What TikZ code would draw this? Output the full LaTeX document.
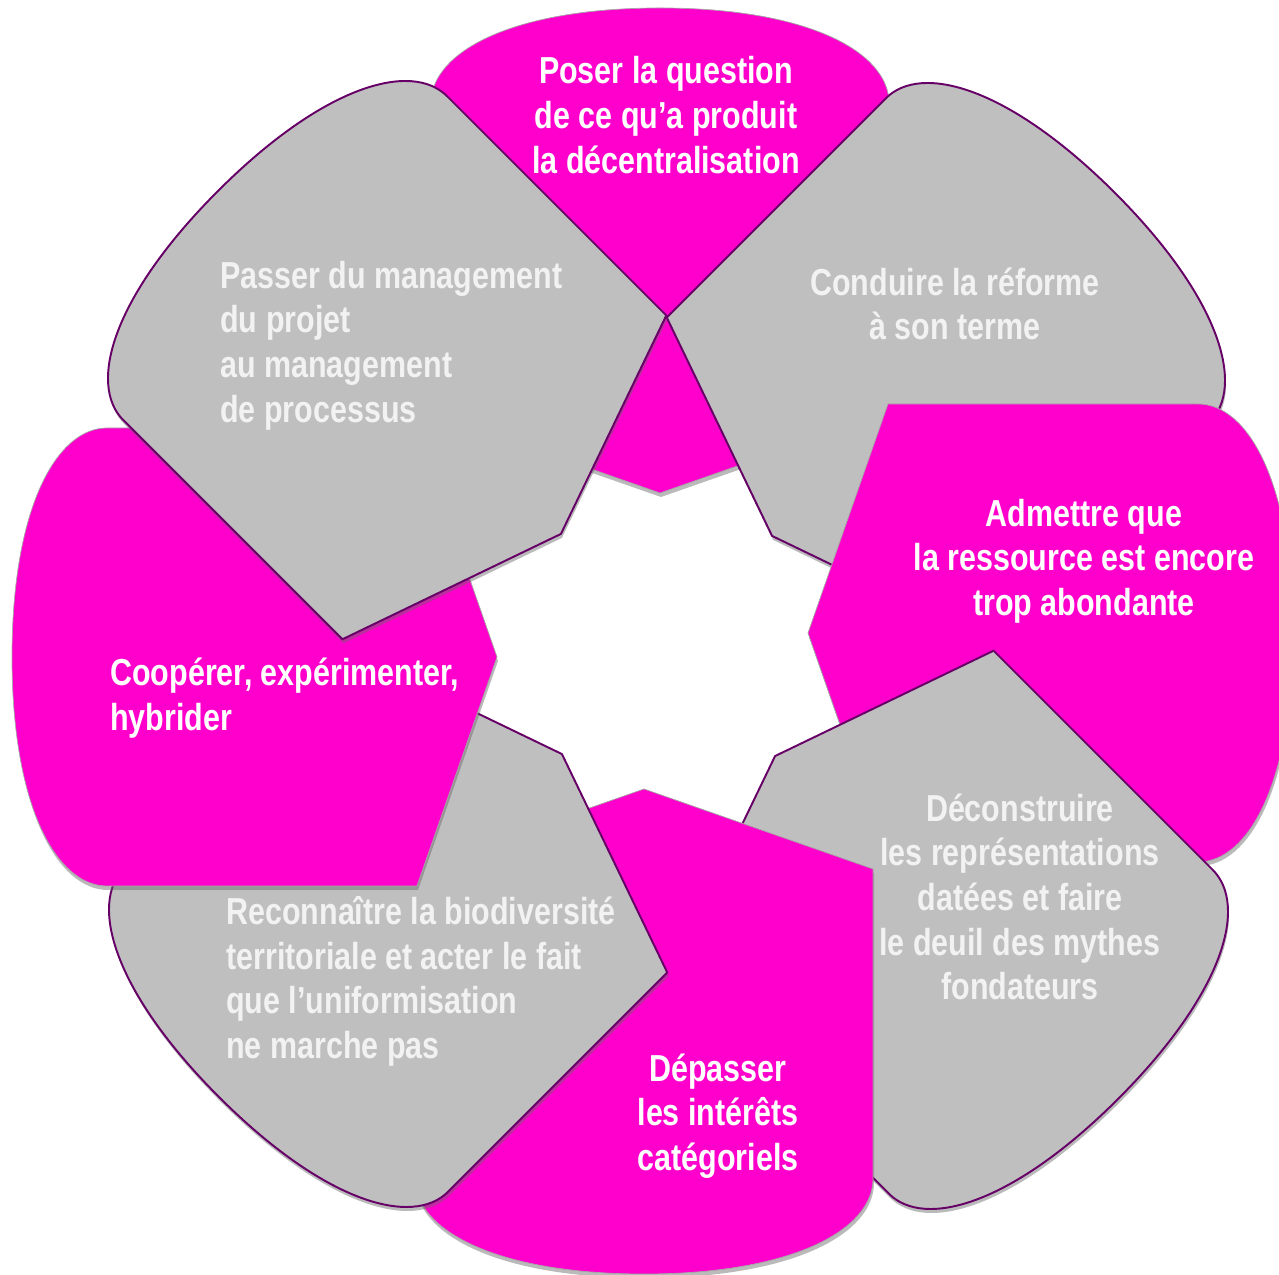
\documentclass[tikz,border=0pt]{standalone}
\usepackage{fontspec}
\setmainfont{Liberation Sans}[FakeStretch=0.81]
\definecolor{petalpink}{HTML}{FF00CC}
\definecolor{petalgray}{HTML}{BFBFBF}
\definecolor{petalline}{HTML}{660066}
\tikzset{
 pinkpetal/.style={fill=petalpink,draw=black!35,line width=0.4pt},
 graypetal/.style={fill=petalgray,draw=petalline,line width=1.1pt},
 petalshade/.style={fill=black!60,opacity=0.45},
 petaltext/.style={font=\bfseries\fontsize{21.4}{25.4}\selectfont,inner sep=0pt,align=center},
 textpink/.style={petaltext,text=white},
 textgray/.style={petaltext,text=white!95!black}
}
% one petal, tip towards the centre, rounded side outwards
\newcommand{\petal}{(0,150) -- (229,230) -- (229,540) .. controls (229,590) and (150,635) .. (0,635) .. controls (-150,635) and (-229,590) .. (-229,540) -- (-229,230) -- cycle}
\begin{document}
\begin{tikzpicture}[x=0.02cm,y=0.02cm]
 \useasboundingbox (0,0) rectangle (1279,1275);
 \clip (0,0) rectangle (1279,1275);
 % clockwise from the top, each petal over the one before
 \foreach \cx/\cy/\ang/\sty in {660/632/0/pinkpetal,666/633/-45/graypetal,658/642/-90/pinkpetal,669/625/-135/graypetal,644/636/-180/pinkpetal,668/627/-225/graypetal,647/618/-270/pinkpetal,667/635/-315/graypetal}{
  \fill[petalshade,shift={(\cx+1,\cy-4)},rotate=\ang] \petal;
  \draw[\sty,shift={(\cx,\cy)},rotate=\ang] \petal;
 }
 % texts
 \node[textpink] (poser) at (666,1160) {Poser la question\\de ce qu’a produit\\la décentralisation};
 \node[textgray] (conduire) at (955,971) {Conduire la réforme\\à son terme};
 \node[textpink] (admettre) at (1084,714) {Admettre que\\la ressource est encore\\trop abondante};
 \node[textgray] (deconstruire) at (1020,378) {Déconstruire\\les représentations\\datées et faire\\le deuil des mythes\\fondateurs};
 \node[textpink] (depasser) at (718,159) {Dépasser\\les intérêts\\catégoriels};
 \node[textgray,anchor=west,align=left] (reconnaitre) at (226,293.5) {Reconnaître la biodiversité\\territoriale et acter le fait\\que l’uniformisation\\ne marche pas};
 \node[textpink,anchor=west,align=left] (cooperer) at (110,577) {Coopérer, expérimenter,\\hybrider};
 \node[textgray,anchor=west,align=left] (passer) at (220,929.5) {Passer du management\\du projet\\au management\\de processus};
\end{tikzpicture}
\end{document}
